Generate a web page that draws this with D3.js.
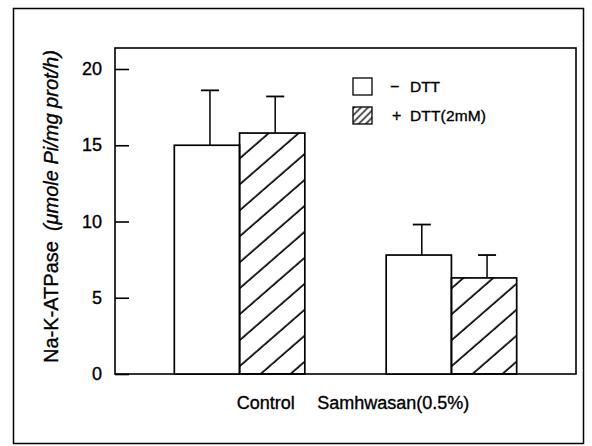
<!DOCTYPE html>
<html>
<head>
<meta charset="utf-8">
<script src="https://cdn.jsdelivr.net/npm/d3@7"></script>
<style>
  html, body { margin: 0; padding: 0; background: #fff; }
  svg { display: block; font-family: "Liberation Sans", Arial, sans-serif; }
  svg text { stroke: #000; stroke-width: 0.35px; }
</style>
</head>
<body>
<svg id="chart" width="592" height="446"></svg>
<script>
// data
const groups = ['Control', 'Samhwasan(0.5%)'];
const series = ['DTT', 'DTT(2mM)'];
const signs = ['−', '+'];
const means = [[15.0, 15.8], [7.8, 6.3]];
const errs = [[3.6, 2.4], [2.0, 1.5]];
const yTicks = [0, 5, 10, 15, 20];

const svg = d3.select('#chart');
const plot = { left: 115, top: 48, right: 576, bottom: 374 };

// hatch patterns
const defs = svg.append('defs');
defs.append('pattern')
  .attr('id', 'hatch')
  .attr('patternUnits', 'userSpaceOnUse')
  .attr('width', 40).attr('height', 19.6)
  .attr('patternTransform', 'rotate(-41)')
  .append('line')
  .attr('x1', 0).attr('y1', 2).attr('x2', 40).attr('y2', 2)
  .attr('stroke', '#000').attr('stroke-width', 1.7);
defs.append('pattern')
  .attr('id', 'hatchSmall')
  .attr('patternUnits', 'userSpaceOnUse')
  .attr('width', 20).attr('height', 5)
  .attr('patternTransform', 'rotate(-45)')
  .append('line')
  .attr('x1', 0).attr('y1', 1).attr('x2', 20).attr('y2', 1)
  .attr('stroke', '#000').attr('stroke-width', 1.3);

// outer frame
svg.append('rect')
  .attr('x', 13.5).attr('y', 8.5)
  .attr('width', 570).attr('height', 435)
  .attr('fill', 'none').attr('stroke', '#000').attr('stroke-width', 1.5);

const y = d3.scaleLinear()
  .domain([0, 20])
  .range([plot.bottom, 69]);

const x = d3.scaleBand()
  .domain(groups)
  .range([plot.left, plot.right])
  .paddingInner(0.384)
  .paddingOuter(0.28);

const xs = d3.scaleBand()
  .domain(series)
  .range([0, x.bandwidth()]);

// plot box
svg.append('rect')
  .attr('x', plot.left).attr('y', plot.top)
  .attr('width', plot.right - plot.left).attr('height', plot.bottom - plot.top)
  .attr('fill', 'none').attr('stroke', '#000').attr('stroke-width', 1.6);

// y axis with inward ticks
const yAxis = svg.append('g')
  .attr('transform', `translate(${plot.left},0)`)
  .call(d3.axisRight(y).tickValues(yTicks).tickSize(14).tickFormat(''));
yAxis.select('.domain').remove();
yAxis.selectAll('.tick line').attr('stroke-width', 1.6);

svg.append('g').selectAll('text')
  .data(yTicks)
  .join('text')
  .attr('x', 102)
  .attr('y', d => y(d) + 6)
  .attr('text-anchor', 'end')
  .attr('font-size', 18)
  .text(d => d);

// bars
const rows = [];
groups.forEach((g, i) => series.forEach((s, j) => {
  rows.push({ g, s, j, v: means[i][j], e: errs[i][j] });
}));

const bars = svg.append('g').selectAll('g')
  .data(rows)
  .join('g')
  .attr('transform', d => `translate(${x(d.g) + xs(d.s)},0)`);

// error bars (upper only)
bars.append('line')
  .attr('x1', xs.bandwidth() / 2 + 3).attr('x2', xs.bandwidth() / 2 + 3)
  .attr('y1', d => y(d.v)).attr('y2', d => y(d.v + d.e))
  .attr('stroke', '#000').attr('stroke-width', 1.5);
bars.append('line')
  .attr('x1', xs.bandwidth() / 2 - 6).attr('x2', xs.bandwidth() / 2 + 12)
  .attr('y1', d => y(d.v + d.e)).attr('y2', d => y(d.v + d.e))
  .attr('stroke', '#000').attr('stroke-width', 1.8);

bars.append('rect')
  .attr('x', 0)
  .attr('y', d => y(d.v))
  .attr('width', xs.bandwidth())
  .attr('height', d => y(0) - y(d.v))
  .attr('fill', d => d.j === 0 ? '#fff' : 'url(#hatch)')
  .attr('stroke', '#000').attr('stroke-width', 1.7);

// category labels
svg.append('text')
  .attr('x', x(groups[0]) + x.bandwidth() - 10)
  .attr('y', 409)
  .attr('text-anchor', 'end')
  .attr('font-size', 18)
  .text(groups[0]);
svg.append('text')
  .attr('x', x(groups[1]) - 69)
  .attr('y', 409)
  .attr('text-anchor', 'start')
  .attr('font-size', 18)
  .text(groups[1]);

// y label
const yl = svg.append('text')
  .attr('transform', 'translate(58,363) rotate(-90)')
  .attr('font-size', 20);
yl.append('tspan').text('Na-K-ATPase');
yl.append('tspan').attr('dx', 10).attr('font-style', 'italic').text('(μmole Pi/mg prot/h)');

// legend
const legend = svg.append('g').selectAll('g')
  .data(series)
  .join('g')
  .attr('transform', (d, i) => `translate(353,${78 + i * 29})`);
legend.append('rect')
  .attr('width', 19).attr('height', 17)
  .attr('fill', (d, i) => i === 0 ? '#fff' : 'url(#hatchSmall)')
  .attr('stroke', '#000').attr('stroke-width', 1.3);
legend.append('text')
  .attr('x', (d, i) => i === 0 ? 37 : 39).attr('y', 14)
  .attr('font-size', 16)
  .text((d, i) => signs[i]);
legend.append('text')
  .attr('x', 57).attr('y', 14)
  .attr('font-size', 15.5)
  .attr('textLength', (d, i) => i === 0 ? 30 : 76)
  .text(d => d);
</script>
</body>
</html>
